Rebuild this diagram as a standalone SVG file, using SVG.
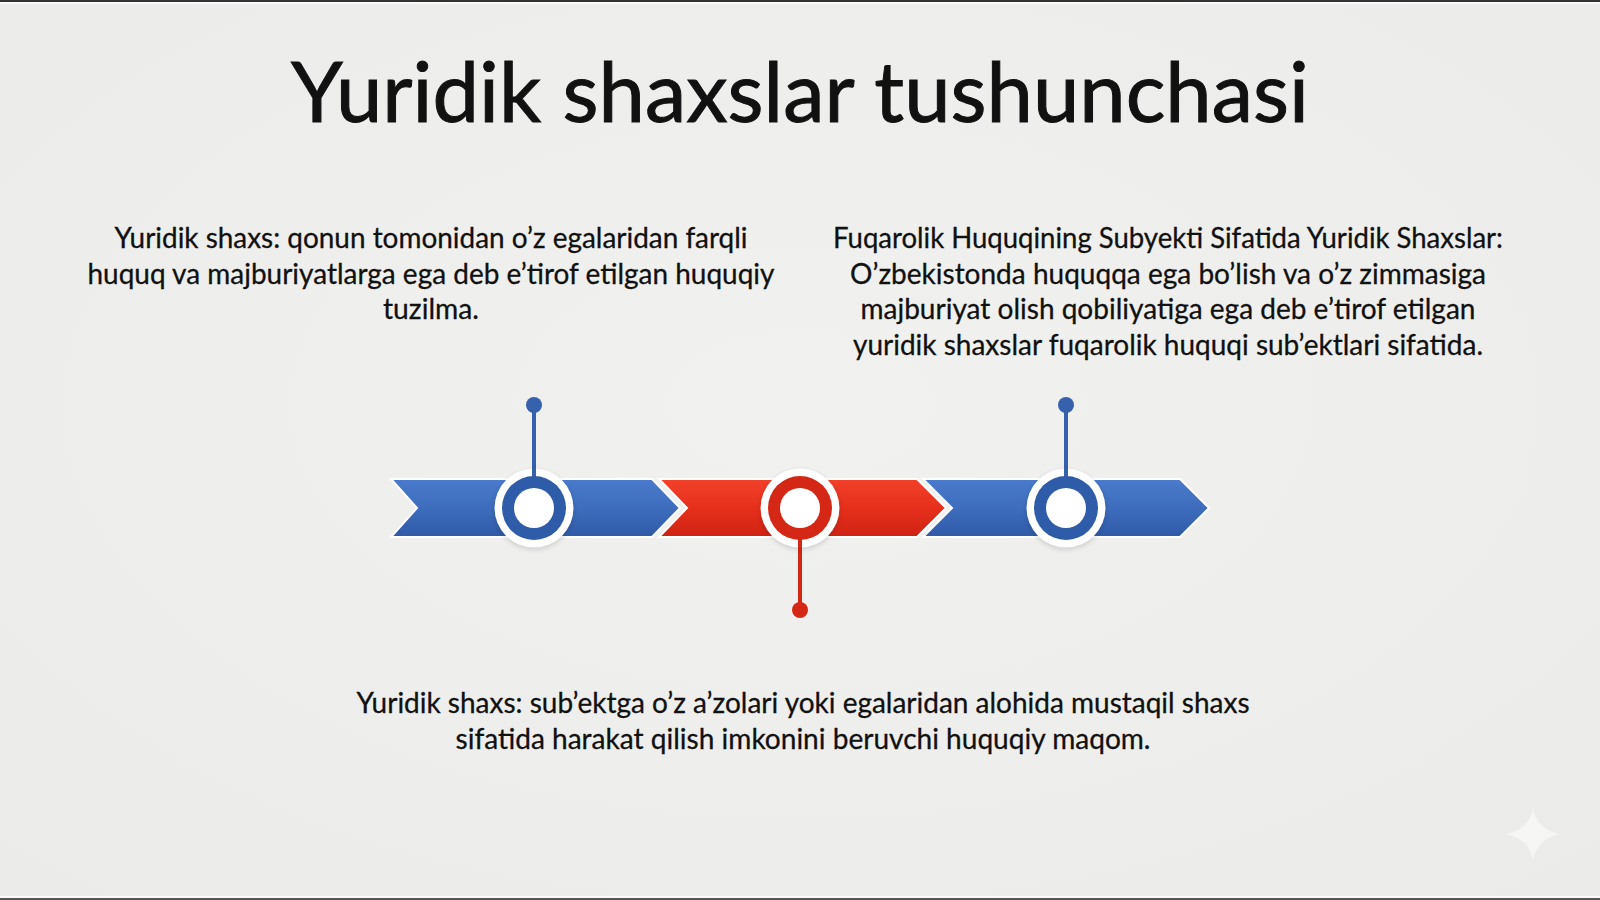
<svg xmlns="http://www.w3.org/2000/svg" width="1600" height="900" viewBox="0 0 1600 900">
  <defs>
    <linearGradient id="gBlue" x1="0" y1="0" x2="0" y2="1">
      <stop offset="0" stop-color="#4a7acb"/>
      <stop offset="0.5" stop-color="#3e6dbd"/>
      <stop offset="1" stop-color="#2f5aa8"/>
    </linearGradient>
    <linearGradient id="gRed" x1="0" y1="0" x2="0" y2="1">
      <stop offset="0" stop-color="#f2412a"/>
      <stop offset="0.5" stop-color="#e6301c"/>
      <stop offset="1" stop-color="#cf2213"/>
    </linearGradient>
    <radialGradient id="gBg" cx="0.5" cy="0.45" r="0.75">
      <stop offset="0" stop-color="#f1f1ef"/>
      <stop offset="1" stop-color="#ebebe9"/>
    </radialGradient>
    <filter id="soft" x="-30%" y="-30%" width="160%" height="160%">
      <feGaussianBlur stdDeviation="2.5"/>
    </filter>
    <style>
      .txt { font-family: Lato, "Open Sans", "Liberation Sans", sans-serif; fill: #111111; text-anchor: middle; }
      .body { font-size: 29px; stroke: #111111; stroke-width: 0.3; }
      .title { font-size: 84px; stroke: #111111; stroke-width: 1; }
      .seg { stroke: #ffffff; stroke-width: 2; stroke-linejoin: miter; }
      .blue { fill: url(#gBlue); }
      .red { fill: url(#gRed); }
      .halo { fill: #ffffff; }
      .hole { fill: #ffffff; }
      .ringBlue { fill: #2f5ca9; }
      .ringRed { fill: #d42716; }
      .pinBlue { stroke: #3561ad; stroke-width: 4; }
      .pinRed { stroke: #d42716; stroke-width: 4; }
    </style>
  </defs>

  <rect x="0" y="0" width="1600" height="900" fill="url(#gBg)"/>
  <rect x="0" y="0" width="1600" height="2" fill="#333333"/>
  <rect x="0" y="2" width="1600" height="2" fill="#ffffff" opacity="0.7"/>
  <rect x="0" y="896" width="1600" height="2" fill="#ffffff" opacity="0.7"/>
  <rect x="0" y="898" width="1600" height="2" fill="#555555"/>

  <g id="title">
    <text class="txt title" x="800" y="122" textLength="1018" lengthAdjust="spacingAndGlyphs">Yuridik shaxslar tushunchasi</text>
  </g>

  <g id="text-left">
    <text class="txt body" x="431" y="248" textLength="633" lengthAdjust="spacingAndGlyphs">Yuridik shaxs: qonun tomonidan o’z egalaridan farqli</text>
    <text class="txt body" x="431" y="284" textLength="687" lengthAdjust="spacingAndGlyphs">huquq va majburiyatlarga ega deb e’tirof etilgan huquqiy</text>
    <text class="txt body" x="431" y="319" textLength="96" lengthAdjust="spacingAndGlyphs">tuzilma.</text>
  </g>

  <g id="text-right">
    <text class="txt body" x="1168" y="248" textLength="670" lengthAdjust="spacingAndGlyphs">Fuqarolik Huquqining Subyekti Sifatida Yuridik Shaxslar:</text>
    <text class="txt body" x="1168" y="284" textLength="636" lengthAdjust="spacingAndGlyphs">O’zbekistonda huquqqa ega bo’lish va o’z zimmasiga</text>
    <text class="txt body" x="1168" y="319" textLength="615" lengthAdjust="spacingAndGlyphs">majburiyat olish qobiliyatiga ega deb e’tirof etilgan</text>
    <text class="txt body" x="1168" y="355" textLength="630" lengthAdjust="spacingAndGlyphs">yuridik shaxslar fuqarolik huquqi sub’ektlari sifatida.</text>
  </g>

  <g id="text-bottom">
    <text class="txt body" x="803" y="713" textLength="893" lengthAdjust="spacingAndGlyphs">Yuridik shaxs: sub’ektga o’z a’zolari yoki egalaridan alohida mustaqil shaxs</text>
    <text class="txt body" x="803" y="749" textLength="695" lengthAdjust="spacingAndGlyphs">sifatida harakat qilish imkonini beruvchi huquqiy maqom.</text>
  </g>

  <g id="timeline-band">
    <polygon class="seg blue" points="391,479 652,479 680,508 652,537 391,537 417,508"/>
    <polygon class="seg red" points="659,479 917,479 946,508 917,537 659,537 687,508"/>
    <polygon class="seg blue" points="923,479 1180,479 1209,508 1180,537 923,537 952,508"/>
  </g>

  <g id="connectors">
    <line class="pinBlue" x1="534" y1="405" x2="534" y2="478"/>
    <circle cx="534" cy="405" r="8" fill="#3561ad"/>
    <line class="pinRed" x1="800" y1="538" x2="800" y2="610"/>
    <circle cx="800" cy="610" r="8" fill="#d42716"/>
    <line class="pinBlue" x1="1066" y1="405" x2="1066" y2="478"/>
    <circle cx="1066" cy="405" r="8" fill="#3561ad"/>
  </g>

  <g id="node-1">
    <circle cx="534" cy="510" r="40" fill="#000000" opacity="0.12" filter="url(#soft)"/>
    <circle class="halo" cx="534" cy="508" r="39.5"/>
    <line class="pinBlue" x1="534" y1="468" x2="534" y2="478"/>
    <circle class="ringBlue" cx="534" cy="508" r="32"/>
    <circle class="hole" cx="534" cy="508" r="20"/>
  </g>

  <g id="node-2">
    <circle cx="800" cy="510" r="40" fill="#000000" opacity="0.12" filter="url(#soft)"/>
    <circle class="halo" cx="800" cy="508" r="39.5"/>
    <line class="pinRed" x1="800" y1="538" x2="800" y2="548"/>
    <circle class="ringRed" cx="800" cy="508" r="32"/>
    <circle class="hole" cx="800" cy="508" r="20"/>
  </g>

  <g id="node-3">
    <circle cx="1066" cy="510" r="40" fill="#000000" opacity="0.12" filter="url(#soft)"/>
    <circle class="halo" cx="1066" cy="508" r="39.5"/>
    <line class="pinBlue" x1="1066" y1="468" x2="1066" y2="478"/>
    <circle class="ringBlue" cx="1066" cy="508" r="32"/>
    <circle class="hole" cx="1066" cy="508" r="20"/>
  </g>

  <path d="M1533,808 Q1537,829 1560,834 Q1537,839 1533,860 Q1529,839 1506,834 Q1529,829 1533,808 Z" fill="#ffffff" opacity="0.5"/>
</svg>
